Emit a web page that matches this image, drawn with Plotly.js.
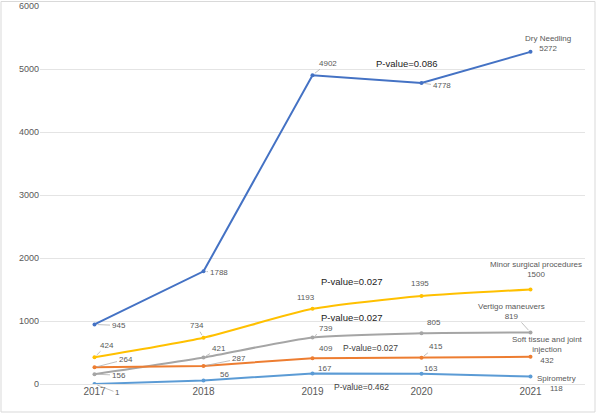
<!DOCTYPE html>
<html>
<head>
<meta charset="utf-8">
<script src="https://cdn.plot.ly/plotly-3.0.1.min.js"></script>
<style>html,body{margin:0;padding:0;background:#fff;}#chart{width:597px;height:414px;}</style>
</head>
<body>
<div id="chart"></div>
<script>
// ---- data ----
const years = ['2017', '2018', '2019', '2020', '2021'];
const dryNeedling = [945, 1788, 4902, 4778, 5272];
const minorSurgical = [424, 734, 1193, 1395, 1500];
const vertigo = [156, 421, 739, 805, 819];
const softTissue = [264, 287, 409, 415, 432];
const spirometry = [1, 56, 167, 163, 118];
const seriesNames = ['Dry Needling', 'Minor surgical procedures', 'Vertigo maneuvers', 'Soft tissue and joint<br>injection', 'Spirometry'];
const pValueTexts = ['P-value=0.086', 'P-value=0.027', 'P-value=0.027', 'P-value=0.027', 'P-value=0.462'];

// ---- styles ----
const colors = ['#4472C4', '#FFC000', '#A5A5A5', '#ED7D31', '#5B9BD5'];
const shapes = ['linear', 'spline', 'spline', 'linear', 'linear'];
const allSeries = [dryNeedling, minorSurgical, vertigo, softTissue, spirometry];

// label offsets [ax, ay, leader]
const labelOffsets = [
  [[24, 1, 1], [15, 1, 1], [15, -12, 1], [20, 3, 1], [17, -8, 0]],
  [[12, -12, 1], [-7, -12, 1], [-7, -11, 0], [-2, -13, 0], [5, -20, 0]],
  [[24, 1, 1], [15, -9, 1], [13, -9, 1], [12, -11, 0], [-19, -21, 1]],
  [[31, -8, 1], [35, -7, 1], [13, -10, 0], [14, -11, 1], [17, -7, 0]],
  [[23, 9, 1], [21, -6, 0], [12, -5, 0], [9, -5, 0], [26, 7, 0]]
];
const pValuePos = [[0.673, 0.849, 9.5, '#222'], [0.573, 0.270, 9.5, '#222'], [0.572, 0.175, 9.5, '#222'], [0.607, 0.095, 8.5, '#404040'], [0.589, -0.008, 8.5, '#404040']];

const traces = allSeries.map((vals, i) => ({
  x: years, y: vals, type: 'scatter', mode: 'lines+markers',
  line: {color: colors[i], width: 2, shape: shapes[i], smoothing: 0.6},
  marker: {color: colors[i], size: 4},
  hoverinfo: 'skip', showlegend: false
}));

const annotations = [];
allSeries.forEach((vals, i) => {
  vals.forEach((v, j) => {
    const off = labelOffsets[i][j];
    let txt = String(v);
    if (j === vals.length - 1) txt = seriesNames[i] + '<br>' + v;
    annotations.push({
      x: j, y: v, xref: 'x', yref: 'y', text: txt,
      showarrow: true, ax: off[0], ay: off[1], arrowhead: 0, arrowwidth: 0.8,
      arrowcolor: off[2] ? '#b0b0b0' : 'rgba(0,0,0,0)', standoff: 3,
      font: {family: 'Liberation Sans', size: 8, color: '#595959'}
    });
  });
});
pValueTexts.forEach((t, k) => {
  const p = pValuePos[k];
  annotations.push({
    x: p[0], y: p[1], xref: 'paper', yref: 'paper', text: t, showarrow: false,
    xanchor: 'center', yanchor: 'middle',
    font: {family: 'Liberation Sans', size: p[2], color: p[3]}
  });
});

const layout = {
  width: 597, height: 414,
  margin: {l: 40, r: 12, t: 6, b: 30},
  paper_bgcolor: '#fff', plot_bgcolor: '#fff',
  xaxis: {type: 'category', range: [-0.5, 4.5], showgrid: false, zeroline: false, showline: false,
    tickfont: {family: 'Liberation Sans', size: 10, color: '#595959'}, ticks: ''},
  yaxis: {range: [0, 6000], dtick: 1000, showgrid: true, gridcolor: '#e4e4e4', gridwidth: 1,
    zeroline: true, zerolinecolor: '#e4e4e4', zerolinewidth: 1, showline: false,
    tickfont: {family: 'Liberation Sans', size: 9, color: '#595959'}, ticks: ''},
  annotations: annotations,
  shapes: [{type: 'rect', xref: 'paper', yref: 'paper',
    x0: (1 - 40) / 545, x1: (595 - 40) / 545, y0: (384 - 412) / 378, y1: (384 - 1.5) / 378,
    line: {color: '#d9d9d9', width: 1}, fillcolor: 'rgba(0,0,0,0)', layer: 'below'}]
};

Plotly.newPlot('chart', traces, layout, {staticPlot: true, displayModeBar: false});
</script>
</body>
</html>
